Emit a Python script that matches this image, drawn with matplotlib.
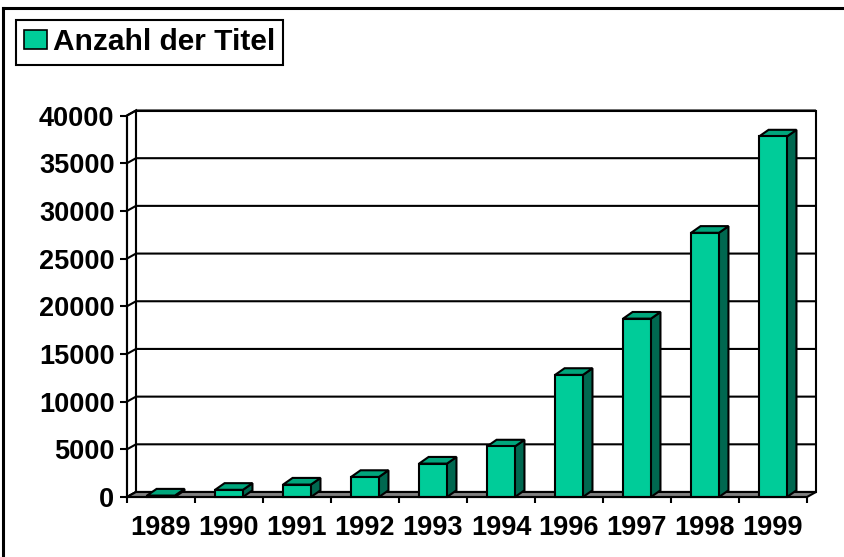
import numpy as np
import matplotlib.pyplot as plt
from matplotlib.patches import Polygon, Patch
from matplotlib.lines import Line2D

plt.rcParams['font.family'] = ['Liberation Sans', 'DejaVu Sans']
plt.rcParams['font.weight'] = 'bold'

# Daten
years = ['1989', '1990', '1991', '1992', '1993', '1994', '1996', '1997', '1998', '1999']
titles = [150, 750, 1300, 2100, 3500, 5300, 12800, 18700, 27700, 37800]
y_ticks = [0, 5000, 10000, 15000, 20000, 25000, 30000, 35000, 40000]
series_name = 'Anzahl der Titel'

# Farben
c_front = '#00CC99'
c_top = '#00A67C'
c_side = '#006850'
c_floor = '#808080'

W, H = 844, 557
fig = plt.figure(figsize=(W / 100, H / 100), dpi=100)
ax = fig.add_axes([127 / W, (H - 497) / H, 680 / W, 381.5 / H])

n = len(years)
x = np.arange(n)
ymax = 40000
x0, x1 = -0.5, n - 0.5

# Tiefe der 3D-Wand (Kategorien- bzw. Werteeinheiten)
dx = 0.132
dy = 524
# Tiefe der Säulen
bdx = 0.14
bdy = 700
bw = 0.41

lw = 1.5

# Rückwand + linke Wand
back = Polygon([(x0 + dx, dy), (x1 + dx, dy), (x1 + dx, ymax + dy), (x0 + dx, ymax + dy)],
               closed=True, facecolor='white', edgecolor='black', lw=lw, zorder=1, clip_on=False)
ax.add_patch(back)
left = Polygon([(x0, 0), (x0 + dx, dy), (x0 + dx, ymax + dy), (x0, ymax)],
               closed=True, facecolor='white', edgecolor='black', lw=lw, zorder=1, clip_on=False)
ax.add_patch(left)

# Gitterlinien auf der Rückwand + schräge Verbindungen
for v in y_ticks:
    ax.plot([x0, x0 + dx, x1 + dx], [v, v + dy, v + dy], color='black', lw=lw,
            zorder=1.5, clip_on=False, solid_capstyle='butt')

# Boden
floor = Polygon([(x0, 0), (x1, 0), (x1 + dx, dy), (x0 + dx, dy)],
                closed=True, facecolor=c_floor, edgecolor='black', lw=lw, zorder=2, clip_on=False)
ax.add_patch(floor)

# Säulen
for xi, v in zip(x, titles):
    l, r = xi - bw / 2, xi + bw / 2
    side = Polygon([(r, 0), (r + bdx, bdy), (r + bdx, v + bdy), (r, v)],
                   closed=True, facecolor=c_side, edgecolor='black', lw=lw, zorder=3, clip_on=False)
    top = Polygon([(l, v), (r, v), (r + bdx, v + bdy), (l + bdx, v + bdy)],
                  closed=True, facecolor=c_top, edgecolor='black', lw=lw, zorder=3, clip_on=False)
    ax.add_patch(side)
    ax.add_patch(top)
ax.bar(x, titles, width=bw, color=c_front, edgecolor='black', lw=lw, zorder=4, clip_on=False)

ax.set_xlim(x0, x1)
ax.set_ylim(0, ymax)
ax.set_facecolor('none')
for s in ['top', 'right']:
    ax.spines[s].set_visible(False)
for s in ['left', 'bottom']:
    ax.spines[s].set_linewidth(lw)
    ax.spines[s].set_zorder(5)

ax.set_yticks(y_ticks)
ax.set_yticklabels([str(v) for v in y_ticks], fontsize=19.5, fontweight='bold')
ax.tick_params(axis='y', direction='out', length=5, width=lw, pad=4)

ax.set_xticks(np.arange(x0, x1 + 0.01, 1))
ax.set_xticklabels([])
ax.tick_params(axis='x', which='major', direction='out', length=4.5, width=lw)
ax.set_xticks(x, minor=True)
ax.set_xticklabels(years, minor=True, fontsize=19.5, fontweight='bold')
ax.tick_params(axis='x', which='minor', length=0, pad=13)

# Legende
handle = Patch(facecolor=c_front, edgecolor='black', lw=1.2)
leg = fig.legend([handle], [series_name], loc='upper left',
                 bbox_to_anchor=(16 / W, 1 - 20 / H), bbox_transform=fig.transFigure,
                 fancybox=False, edgecolor='black', framealpha=1, borderaxespad=0,
                 prop={'size': 21.5, 'weight': 'bold'}, handlelength=0.75, handleheight=0.6,
                 handletextpad=0.2, borderpad=0.28)
leg.get_frame().set_linewidth(1.5)

# Rahmen (oben und links)
fig.add_artist(Line2D([3 / W, 1], [1 - 7.5 / H, 1 - 7.5 / H], transform=fig.transFigure,
                      color='black', lw=2.2))
fig.add_artist(Line2D([3 / W, 3 / W], [0, 1 - 7.5 / H], transform=fig.transFigure,
                      color='black', lw=2.2))

fig.savefig('out.png', dpi=100)
